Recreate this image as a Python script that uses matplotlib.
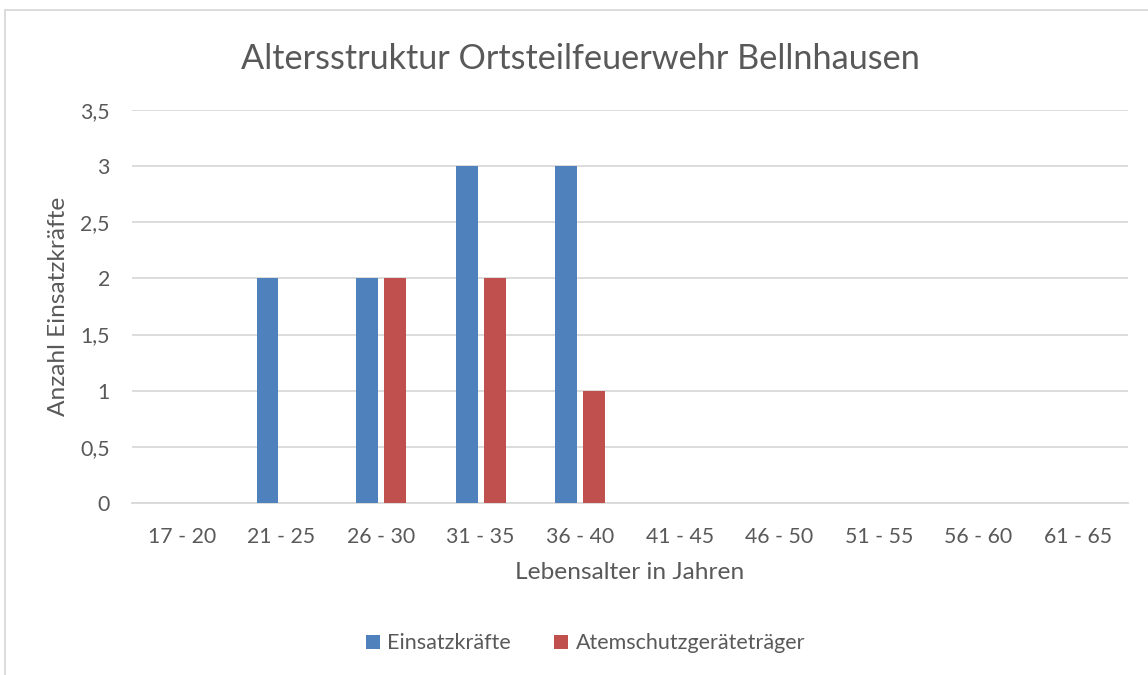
import numpy as np
import matplotlib
matplotlib.use('Agg')
import matplotlib.pyplot as plt
from matplotlib.patches import Rectangle

categories = ['17 - 20', '21 - 25', '26 - 30', '31 - 35', '36 - 40',
              '41 - 45', '46 - 50', '51 - 55', '56 - 60', '61 - 65']
einsatzkraefte = [0, 2, 2, 3, 3, 0, 0, 0, 0, 0]
atemschutz = [0, 0, 2, 2, 1, 0, 0, 0, 0, 0]
yticks = [0, 0.5, 1, 1.5, 2, 2.5, 3, 3.5]

plt.rcParams['font.family'] = ['Lato', 'DejaVu Sans']
txt = '#595959'
blue = '#4F81BD'
red = '#C0504D'

fig = plt.figure(figsize=(11.48, 6.75), dpi=100)
ax = fig.add_axes([0.115, 0.2548, 0.8676, 0.5822])

x = np.arange(len(categories))
w = 0.22
ax.bar(x - 0.14, einsatzkraefte, w, color=blue, label='Einsatzkräfte', zorder=3)
ax.bar(x + 0.14, atemschutz, w, color=red, label='Atemschutzgeräteträger', zorder=3)

ax.set_xlim(-0.5, len(categories) - 0.5)
ax.set_ylim(0, 3.5)
ax.set_yticks(yticks)
ax.set_yticklabels([('%g' % v).replace('.', ',') for v in yticks])
ax.set_xticks(x)
ax.set_xticklabels(categories)
ax.tick_params(axis='both', length=0, labelsize=15.3, colors=txt)
ax.tick_params(axis='y', pad=16)
ax.tick_params(axis='x', pad=17)

ax.grid(axis='y', color='#D9D9D9', linewidth=1.3, zorder=0)
for s in ['top', 'right', 'left']:
    ax.spines[s].set_visible(False)
ax.spines['bottom'].set_color('#D9D9D9')
ax.spines['bottom'].set_linewidth(1.3)

ax.set_xlabel('Lebensalter in Jahren', fontsize=17.6, color=txt, labelpad=11)
ax.set_ylabel('Anzahl Einsatzkräfte', fontsize=17.6, color=txt, labelpad=8)
fig.text(0.506, 0.913, 'Altersstruktur Ortsteilfeuerwehr Bellnhausen',
         ha='center', va='center', fontsize=24.7, color=txt)

fig.legend(loc='center', bbox_to_anchor=(0.51, 0.047), ncol=2, frameon=False,
           fontsize=15.5, handlelength=0.65, handleheight=0.65, columnspacing=2.0,
           handletextpad=0.35, labelcolor=txt)

# chart border (only left and top visible in the crop)
fig.patches.append(Rectangle((5 / 1148, -0.1), 1.2, 1.1 - 10 / 675,
                             transform=fig.transFigure, fill=False,
                             edgecolor='#D9D9D9', linewidth=1.3))

fig.savefig('out.png', dpi=100)
